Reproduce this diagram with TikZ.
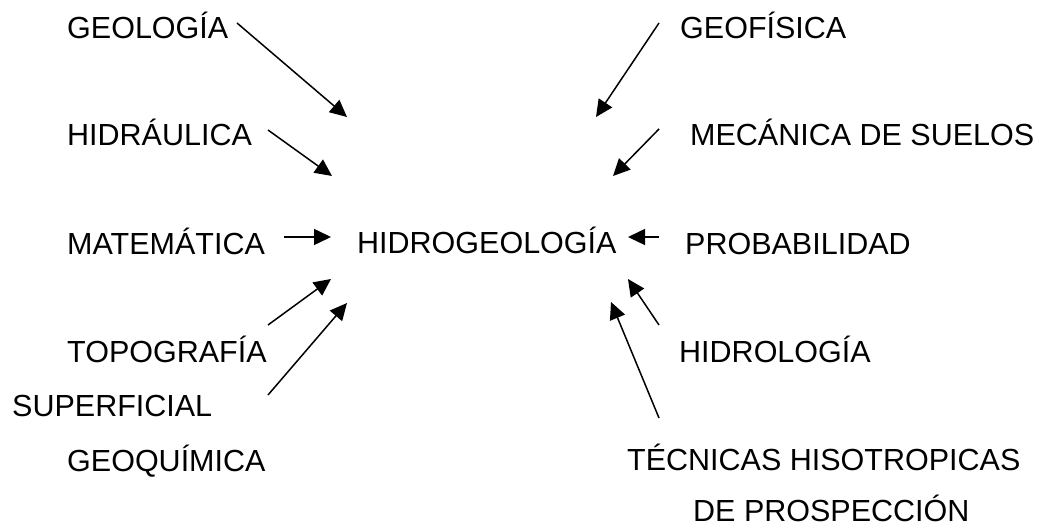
\documentclass[tikz,border=0pt]{standalone}
\usepackage{fontspec}
\setmainfont{Liberation Sans}
\usetikzlibrary{arrows.meta}
\tikzset{
  lbl/.style={inner sep=0pt, anchor=base west, font=\fontsize{30.5}{36}\selectfont},
  arr/.style={line width=1.5pt, -{Triangle[length=17pt,width=16pt]}}
}
\begin{document}
\begin{tikzpicture}[x=1pt,y=-1pt]
\useasboundingbox (0,0) rectangle (1043,526);
% labels
\node[lbl] (geol) at (67,39) {GEOLOGÍA};
\node[lbl] (hidra) at (67,146) {HIDRÁULICA};
\node[lbl] (mate) at (67,255) {MATEMÁTICA};
\node[lbl] (topo) at (67,362) {TOPOGRAFÍA};
\node[lbl] (sup) at (12,416) {SUPERFICIAL};
\node[lbl] (geoq) at (67,471) {GEOQUÍMICA};
\node[lbl] (hidro) at (357,254) {HIDROGEOLOGÍA};
\node[lbl] (geof) at (680,39) {GEOFÍSICA};
\node[lbl] (meca) at (690,146) {MECÁNICA DE SUELOS};
\node[lbl] (prob) at (685,255) {PROBABILIDAD};
\node[lbl] (hidrol) at (679,362) {HIDROLOGÍA};
\node[lbl] (tec) at (627,470) {TÉCNICAS HISOTROPICAS};
\node[lbl] (pros) at (693,521) {DE PROSPECCIÓN};
% arrow endpoints
\coordinate (a1s) at (237,23);  \coordinate (a1e) at (347,117);
\coordinate (a2s) at (268,130); \coordinate (a2e) at (332,176);
\coordinate (a3s) at (284,237); \coordinate (a3e) at (331,237);
\coordinate (a4s) at (268,325); \coordinate (a4e) at (331,279);
\coordinate (a5s) at (268,395); \coordinate (a5e) at (347,303);
\coordinate (b1s) at (659,23);  \coordinate (b1e) at (596,117);
\coordinate (b2s) at (659,129); \coordinate (b2e) at (613,176);
\coordinate (b3s) at (659,237); \coordinate (b3e) at (628,237);
\coordinate (b4s) at (659,325); \coordinate (b4e) at (628,279);
\coordinate (b5s) at (659,418); \coordinate (b5e) at (611,302);
% arrows
\draw[arr] (a1s) -- (a1e);
\draw[arr] (a2s) -- (a2e);
\draw[arr] (a3s) -- (a3e);
\draw[arr] (a4s) -- (a4e);
\draw[arr] (a5s) -- (a5e);
\draw[arr] (b1s) -- (b1e);
\draw[arr] (b2s) -- (b2e);
\draw[arr] (b3s) -- (b3e);
\draw[arr] (b4s) -- (b4e);
\draw[arr] (b5s) -- (b5e);
\end{tikzpicture}
\end{document}
